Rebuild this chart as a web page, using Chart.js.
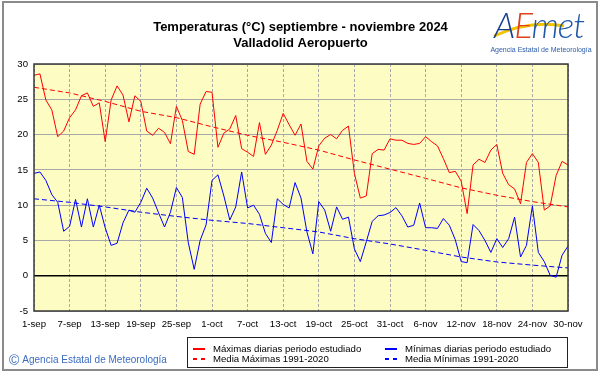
<!DOCTYPE html>
<html>
<head>
<meta charset="utf-8">
<script src="https://cdn.jsdelivr.net/npm/chart.js@4.4.1/dist/chart.umd.min.js"></script>
<style>
  body { margin: 0; background: #fff; }
  #wrap { position: relative; width: 601px; height: 374px; font-family: "Liberation Sans", Arial, sans-serif; }
  #frame { position: absolute; left: 2px; top: 1px; width: 596px; height: 370px; box-sizing: border-box; border: 2px solid #8a8a8a; pointer-events: none; }
  #legend { position: absolute; left: 187px; top: 337px; width: 381px; height: 31px; box-sizing: border-box; border: 1px solid #222; background: #fff; font-size: 9.6px; }
  .item { position: absolute; height: 11px; line-height: 11px; white-space: nowrap; }
  .sample { position: absolute; top: 5px; width: 12px; height: 1px; }
  .item span { position: absolute; left: 20px; top: 0; }
  #copy { position: absolute; left: 9px; top: 352px; color: #3b6cc0; font-size: 10px; white-space: nowrap; }
  #copy b { font-weight: normal; font-size: 14px; vertical-align: -2px; margin-right: 3px; }
  #logo { position: absolute; left: 486px; top: 2px; width: 110px; height: 52px; }
  #logo .word { position: absolute; left: 8px; top: 1px; font-family: Lato, "Liberation Sans", sans-serif; font-weight: 300; font-style: italic; font-size: 35px; letter-spacing: -1px; white-space: nowrap; }
  #logo .sub { position: absolute; left: 0; top: 44px; width: 110px; text-align: center; font-size: 7px; color: #2b5cab; white-space: nowrap; }
</style>
</head>
<body>
<div id="wrap">
  <canvas id="chart" width="601" height="374"></canvas>
  <div id="logo">
    <svg width="110" height="44" style="position:absolute;left:0;top:0">
      <path d="M8 34 C 30 24, 55 20, 78 24" stroke="#f3c300" stroke-width="3" fill="none"/>
    </svg>
    <div class="word"><span style="color:#1b3d91">A</span><span style="color:#e0401e">E</span><span style="color:#1f57a6">met</span></div>
    <div class="sub">Agencia Estatal de Meteorología</div>
  </div>
  <div id="legend"></div>
  <div id="copy"><b>©</b>Agencia Estatal de Meteorología</div>
  <div id="frame"></div>
</div>
<script>
const titleLines = ["Temperaturas (°C) septiembre - noviembre 2024", "Valladolid Aeropuerto"];
const tickLabels = ["1-sep", "7-sep", "13-sep", "19-sep", "25-sep", "1-oct", "7-oct", "13-oct",
  "19-oct", "25-oct", "31-oct", "6-nov", "12-nov", "18-nov", "24-nov", "30-nov"];

// daily values, 1-sep .. 30-nov
const maxDaily = [28.4, 28.6, 24.9, 23.5, 19.7, 20.5, 22.4, 23.5, 25.5, 25.9,
  24.0, 24.5, 19.0, 24.9, 26.9, 25.6, 21.8, 25.5, 24.7, 20.5,
  19.9, 20.9, 20.3, 18.7, 24.0, 22.0, 17.6, 17.2, 24.3, 26.1,
  26.0, 18.2, 20.2, 20.8, 22.7, 18.0, 17.5, 16.9, 21.7, 17.2,
  18.5, 20.6, 23.0, 21.4, 19.9, 21.5, 16.2, 15.1, 18.4, 19.5,
  20.0, 19.4, 20.6, 21.2, 14.5, 11.0, 11.3, 17.3, 17.9, 17.8,
  19.4, 19.2, 19.2, 18.75, 18.6, 18.75, 19.7, 19.0, 18.4, 16.6,
  14.6, 14.8, 13.4, 8.8, 15.7, 16.5, 16.05, 17.8, 18.6, 14.5,
  12.9, 12.3, 10.2, 16.05, 17.3, 16.05, 9.3, 9.9, 14.2, 16.2,
  15.7];
const minDaily = [14.5, 14.7, 13.5, 11.5, 10.4, 6.3, 7.0, 10.8, 6.9, 10.9,
  6.9, 10.0, 6.8, 4.3, 4.6, 7.5, 9.3, 9.0, 10.4, 12.4,
  11.0, 8.9, 6.9, 9.0, 12.5, 11.1, 4.7, 0.9, 5.0, 7.2,
  13.5, 14.3, 11.3, 7.9, 9.75, 14.7, 9.6, 10.0, 8.7, 6.0,
  4.7, 10.9, 10.1, 9.6, 13.2, 11.0, 6.2, 3.1, 10.5, 9.3,
  6.3, 9.75, 8.0, 8.3, 3.8, 2.0, 4.8, 7.7, 8.5, 8.6,
  8.95, 9.65, 8.5, 6.9, 7.15, 10.3, 6.8, 6.8, 6.7, 8.1,
  7.15, 5.1, 2.0, 1.85, 7.25, 6.4, 5.0, 3.3, 5.25, 4.0,
  5.25, 8.3, 2.65, 4.3, 9.9, 3.3, 2.0, 0.05, -0.2, 2.9,
  4.2];

// 1991-2020 normals read at each labelled day
const normalDays = [0, 6, 12, 18, 24, 30, 36, 42, 48, 54, 60, 66, 72, 78, 84, 90];
const normalMax = [26.7, 25.9, 24.7, 23.3, 22.4, 21.1, 19.9, 18.9, 17.8, 16.4, 15.1, 13.8, 12.45, 11.4, 10.5, 9.75];
const normalMin = [10.9, 10.4, 9.75, 9.0, 8.4, 7.85, 7.4, 6.8, 6.2, 5.25, 4.5, 3.6, 2.65, 1.95, 1.5, 1.1];

const seriesNames = ["Máximas diarias periodo estudiado", "Mínimas diarias periodo estudiado",
  "Media Máximas 1991-2020", "Media Mínimas 1991-2020"];

const FONT = "'Liberation Sans', Arial, sans-serif";
const daily = (arr) => arr.map((v, i) => ({ x: i, y: v }));
const normal = (arr) => arr.map((v, i) => ({ x: normalDays[i], y: v }));

const plotArea = {
  id: "plotArea",
  beforeDraw(chart) {
    const { ctx, chartArea: a } = chart;
    ctx.save();
    ctx.fillStyle = "#fdfcc3";
    ctx.fillRect(a.left, a.top, a.width, a.height);
    ctx.restore();
  },
  afterDraw(chart) {
    const { ctx, chartArea: a } = chart;
    ctx.save();
    ctx.strokeStyle = "#3a3a3a";
    ctx.lineWidth = 1.5;
    ctx.strokeRect(a.left, a.top, a.width, a.height);
    ctx.restore();
  }
};

new Chart(document.getElementById("chart"), {
  type: "line",
  data: {
    datasets: [
      { label: seriesNames[0], data: daily(maxDaily), borderColor: "#ff0000", borderWidth: 1 },
      { label: seriesNames[1], data: daily(minDaily), borderColor: "#0000ff", borderWidth: 1 },
      { label: seriesNames[2], data: normal(normalMax), borderColor: "#ff0000", borderWidth: 1, borderDash: [5, 3] },
      { label: seriesNames[3], data: normal(normalMin), borderColor: "#0000ff", borderWidth: 1, borderDash: [5, 3] }
    ]
  },
  options: {
    responsive: false,
    animation: false,
    elements: { point: { radius: 0 }, line: { tension: 0 } },
    layout: { padding: { left: 0, right: 0, top: 0, bottom: 43 } },
    plugins: {
      legend: { display: false },
      tooltip: { enabled: false },
      title: {
        display: true,
        text: titleLines,
        color: "#000",
        font: { family: FONT, size: 13, weight: "bold", lineHeight: 16 / 13 },
        padding: { top: 19, bottom: 13 }
      }
    },
    scales: {
      x: {
        type: "linear",
        min: 0,
        max: 90,
        afterFit: (s) => { s.height = 20; },
        border: { display: false, dash: [3, 2] },
        grid: { color: "#a8a8a8", drawTicks: false },
        ticks: {
          stepSize: 6,
          autoSkip: false,
          maxRotation: 0,
          padding: 8,
          color: "#000",
          font: { family: FONT, size: 9.6 },
          callback: (v) => tickLabels[v / 6]
        }
      },
      y: {
        min: -5,
        max: 30,
        afterFit: (s) => { s.width = 34; },
        border: { display: false },
        grid: {
          drawTicks: false,
          color: (c) => (c.tick && c.tick.value === 0 ? "#000" : "#a8a8a8"),
          lineWidth: (c) => (c.tick && c.tick.value === 0 ? 1.5 : 1)
        },
        ticks: { stepSize: 5, padding: 6, color: "#000", font: { family: FONT, size: 9.6 } }
      },
      yRight: {
        position: "right",
        display: true,
        afterFit: (s) => { s.width = 33; },
        border: { display: false },
        grid: { display: false },
        ticks: { display: false }
      }
    }
  },
  plugins: [plotArea]
});

// boxed two-column legend under the plot
const legendItems = [
  { name: seriesNames[0], color: "#ff0000", dashed: false, left: 5, top: 5 },
  { name: seriesNames[1], color: "#0000ff", dashed: false, left: 197, top: 5 },
  { name: seriesNames[2], color: "#ff0000", dashed: true, left: 5, top: 15 },
  { name: seriesNames[3], color: "#0000ff", dashed: true, left: 197, top: 15 }
];
const legendBox = document.getElementById("legend");
legendItems.forEach((it) => {
  const row = document.createElement("div");
  row.className = "item";
  row.style.left = it.left + "px";
  row.style.top = it.top + "px";
  const sample = document.createElement("div");
  sample.className = "sample";
  sample.style.background = it.dashed
    ? `repeating-linear-gradient(90deg, ${it.color} 0 4px, transparent 4px 8px)`
    : it.color;
  sample.style.height = "1.5px";
  const label = document.createElement("span");
  label.textContent = it.name;
  row.appendChild(sample);
  row.appendChild(label);
  legendBox.appendChild(row);
});
</script>
</body>
</html>
